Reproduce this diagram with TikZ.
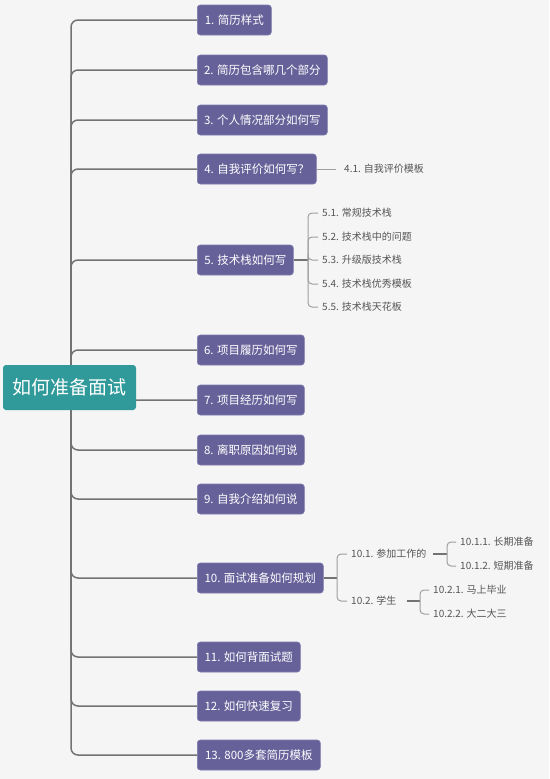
\documentclass[tikz,border=0pt]{standalone}
\usepackage{fontspec}
\newfontfamily\cjk{Noto Sans CJK SC}
\definecolor{bgc}{HTML}{F5F5F5}
\definecolor{rootfill}{HTML}{30999A}
\definecolor{topicfill}{HTML}{67619A}
\definecolor{topicborder}{HTML}{7D78AC}
\definecolor{linec}{HTML}{737373}
\definecolor{thinc}{HTML}{9E9E9E}
\definecolor{subtext}{HTML}{555555}
\pgfdeclarelayer{bg}
\pgfdeclarelayer{canvas}
\pgfsetlayers{canvas,bg,main}
\begin{document}
\begin{tikzpicture}[x=1pt,y=-1pt,
  rootbox/.style={fill=rootfill, rounded corners=3pt, text=white, font=\cjk\fontsize{19}{22}\selectfont, minimum width=133pt, minimum height=45pt, inner sep=0pt},
  topic/.style={draw=topicborder, line width=0.6pt, fill=topicfill, rounded corners=3pt, text=white, font=\cjk\fontsize{11.5}{13}\selectfont, minimum height=30pt, anchor=west, inner xsep=0pt},
  sub/.style={font=\cjk\fontsize{10}{11}\selectfont, text=subtext, anchor=west, inner xsep=4pt, inner ysep=2pt},
  conn/.style={draw=linec, line width=1.5pt, rounded corners=7pt},
  thinl/.style={draw=thinc, line width=1pt, rounded corners=4pt},
  midl/.style={draw=linec, line width=1.5pt}]
\begin{pgfonlayer}{canvas}
\fill[bgc] (0,0) rectangle (549,779);
\end{pgfonlayer}
\useasboundingbox (0,0) rectangle (549,779);

\node[rootbox] (root) at (69.5,387.5) {如何准备面试};

\node[topic, minimum width=74pt]  (t1)  at (197,20)  {1. 简历样式};
\node[topic, minimum width=130pt] (t2)  at (197,70)  {2. 简历包含哪几个部分};
\node[topic, minimum width=130pt] (t3)  at (197,120) {3. 个人情况部分如何写};
\node[topic, minimum width=119pt] (t4)  at (197,169) {4. 自我评价如何写？};
\node[topic, minimum width=96pt]  (t5)  at (197,260) {5. 技术栈如何写};
\node[topic, minimum width=107pt] (t6)  at (197,350) {6. 项目履历如何写};
\node[topic, minimum width=107pt] (t7)  at (197,400) {7. 项目经历如何写};
\node[topic, minimum width=107pt] (t8)  at (197,450) {8. 离职原因如何说};
\node[topic, minimum width=107pt] (t9)  at (197,499) {9. 自我介绍如何说};
\node[topic, minimum width=126pt] (t10) at (197,578) {10. 面试准备如何规划};
\node[topic, minimum width=103pt] (t11) at (197,657) {11. 如何背面试题};
\node[topic, minimum width=103pt] (t12) at (197,706) {12. 如何快速复习};
\node[topic, minimum width=123pt] (t13) at (197,755) {13. 800多套简历模板};

\node[sub] (s41) at (340,169) {4.1. 自我评价模板};

\coordinate (b5) at (308,260);
\node[sub] (s51) at (318,213) {5.1. 常规技术栈};
\node[sub] (s52) at (318,237) {5.2. 技术栈中的问题};
\node[sub] (s53) at (318,260) {5.3. 升级版技术栈};
\node[sub] (s54) at (318,284) {5.4. 技术栈优秀模板};
\node[sub] (s55) at (318,307) {5.5. 技术栈天花板};

\coordinate (b10) at (337,578);
\node[sub] (s101) at (347,554) {10.1. 参加工作的};
\node[sub] (s102) at (347,601) {10.2. 学生};
\coordinate (b101) at (447,554);
\node[sub] (s1011) at (456,542) {10.1.1. 长期准备};
\node[sub] (s1012) at (456,566) {10.1.2. 短期准备};
\coordinate (b102) at (420,601);
\node[sub] (s1021) at (429,590) {10.2.1. 马上毕业};
\node[sub] (s1022) at (429,614) {10.2.2. 大二大三};

\begin{pgfonlayer}{bg}
\coordinate (T) at (71,387.5);
\foreach \t in {t1,t2,t3,t4,t5,t6,t7,t8,t9,t10,t11,t12,t13}
  \draw[conn] (T) |- (\t.west);
\draw[thinl] (t4.east) -- ([xshift=-4pt]s41.west);
\draw[midl] (t5.east) -- (b5);
\foreach \s in {s51,s52,s53,s54,s55}
  \draw[thinl] (b5) |- (\s.west);
\draw[midl] (t10.east) -- (b10);
\foreach \s in {s101,s102}
  \draw[thinl] (b10) |- (\s.west);
\draw[midl] ([xshift=2pt]s101.east) -- (b101);
\foreach \s in {s1011,s1012}
  \draw[thinl] (b101) |- (\s.west);
\draw[midl] ([xshift=6pt]s102.east) -- (b102);
\foreach \s in {s1021,s1022}
  \draw[thinl] (b102) |- (\s.west);
\end{pgfonlayer}
\end{tikzpicture}
\end{document}
